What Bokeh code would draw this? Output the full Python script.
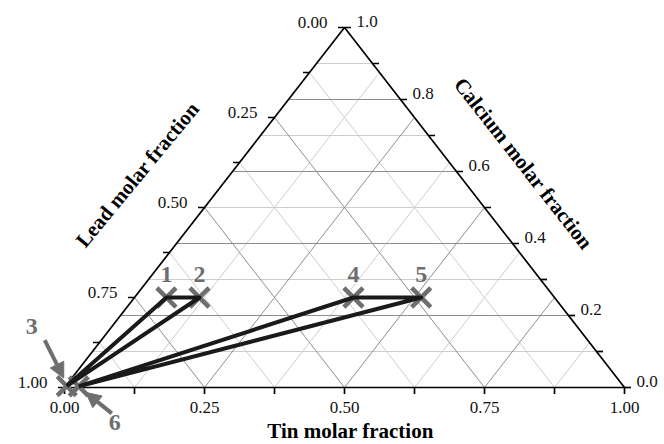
import math
from bokeh.plotting import figure
from bokeh.models import Range1d, Arrow, NormalHead
from bokeh.core.properties import value
from bokeh.embed import file_html
from bokeh.resources import INLINE

# ---- compositions (molar fractions); lead is the remainder ----
sample_ids = ["1", "2", "3", "4", "5", "6"]
tin_frac = [0.057, 0.116, 0.002, 0.391, 0.512, 0.024]
calcium_frac = [0.25, 0.25, 0.004, 0.25, 0.25, 0.003]

# tie triangles (indices into the samples)
tie_triangles = [[2, 0, 1], [5, 3, 4]]

# ---- axis ticks ----
tin_major = [0.0, 0.25, 0.5, 0.75, 1.0]
tin_labels = ["0.00", "0.25", "0.50", "0.75", "1.00"]
tin_minor = [0.125, 0.375, 0.625, 0.875]
lead_major = [0.0, 0.25, 0.5, 0.75, 1.0]
lead_labels = ["0.00", "0.25", "0.50", "0.75", "1.00"]
lead_minor = [0.125, 0.375, 0.625, 0.875]
ca_major = [1.0, 0.8, 0.6, 0.4, 0.2, 0.0]
ca_labels = ["1.0", "0.8", "0.6", "0.4", "0.2", "0.0"]
ca_minor = [0.9, 0.7, 0.5, 0.3, 0.1]

# pixel scale of the triangle (base 560 px, height 360 px)
SX, SY = 560.0, 360.0
SERIF = value("Liberation Serif")


def to_xy(sn, ca):
    """ternary (tin, calcium) -> cartesian plot coordinates"""
    return sn + ca / 2.0, ca


p = figure(width=664, height=444,
           x_range=Range1d(-64 / SX, 1 + 40 / SX),
           y_range=Range1d(-57 / SY, 1 + 27 / SY),
           output_backend="svg", toolbar_location=None,
           x_axis_location=None, y_axis_location=None,
           min_border=0, outline_line_color=None)
p.background_fill_color = "white"
p.border_fill_color = "white"
p.xgrid.visible = False
p.ygrid.visible = False

GRID_MAJOR = "#8e8e8e"
GRID_MINOR = "#cdcdcd"


def horizontal(levels, color):
    xs0 = [c / 2 for c in levels]
    xs1 = [1 - c / 2 for c in levels]
    p.segment(x0=xs0, y0=levels, x1=xs1, y1=levels, line_color=color, line_width=1)


def const_tin(levels, color):
    a = [to_xy(s, 0.0) for s in levels]
    b = [to_xy(s, 1 - s) for s in levels]
    p.segment(x0=[q[0] for q in a], y0=[q[1] for q in a],
              x1=[q[0] for q in b], y1=[q[1] for q in b],
              line_color=color, line_width=1)


def const_lead(levels, color):
    a = [to_xy(1 - q, 0.0) for q in levels]
    b = [to_xy(0.0, 1 - q) for q in levels]
    p.segment(x0=[q[0] for q in a], y0=[q[1] for q in a],
              x1=[q[0] for q in b], y1=[q[1] for q in b],
              line_color=color, line_width=1)


inner_ca_major = [c for c in ca_major if 0 < c < 1]
inner_tin_major = [c for c in tin_major if 0 < c < 1]
inner_lead_major = [c for c in lead_major if 0 < c < 1]

horizontal(ca_minor, GRID_MINOR)
const_tin(tin_minor, GRID_MINOR)
const_lead(lead_minor, GRID_MINOR)
horizontal(inner_ca_major, GRID_MAJOR)
const_tin(inner_tin_major, GRID_MAJOR)
const_lead(inner_lead_major, GRID_MAJOR)

# triangle frame
tri = [to_xy(0, 0), to_xy(1, 0), to_xy(0, 1), to_xy(0, 0)]
p.line([t[0] for t in tri], [t[1] for t in tri], line_color="black", line_width=1.7)

TICK = 6.5
# bottom (tin) ticks pointing down
bt = tin_major + tin_minor
p.segment(x0=bt, y0=[0] * len(bt), x1=bt, y1=[-TICK / SY] * len(bt),
          line_color="black", line_width=1.7)
# left (lead) ticks pointing left
lt = lead_major + lead_minor
lx = [to_xy(0, 1 - q)[0] for q in lt]
ly = [1 - q for q in lt]
p.segment(x0=lx, y0=ly, x1=[x - TICK / SX for x in lx], y1=ly,
          line_color="black", line_width=1.7)
# right (calcium) ticks pointing right
rt = ca_major + ca_minor
rx = [to_xy(1 - c, c)[0] for c in rt]
p.segment(x0=rx, y0=rt, x1=[x + TICK / SX for x in rx], y1=rt,
          line_color="black", line_width=1.7)

# tick labels
p.text(x=tin_major, y=[0] * len(tin_major), text=tin_labels,
       text_font=SERIF, text_font_size="17px", text_color="#111111",
       text_align="center", text_baseline="top", y_offset=14)
p.text(x=[to_xy(0, 1 - q)[0] for q in lead_major], y=[1 - q for q in lead_major],
       text=lead_labels, text_font=SERIF, text_font_size="17px", text_color="#111111",
       text_align="right", text_baseline="middle", x_offset=-17, y_offset=-5)
p.text(x=[to_xy(1 - c, c)[0] for c in ca_major], y=ca_major, text=ca_labels,
       text_font=SERIF, text_font_size="17px", text_color="#111111",
       text_align="left", text_baseline="middle", x_offset=12, y_offset=-6)

# axis titles
TITLE_FONT = "21px"
p.text(x=[0.5], y=[0.0], text=["Tin molar fraction"], text_font=SERIF,
       text_font_size=TITLE_FONT, text_font_style="bold", text_color="black",
       text_align="center", text_baseline="middle", x_offset=6, y_offset=43)
lm = to_xy(0, 0.5)
p.text(x=[lm[0]], y=[lm[1]], text=["Lead molar fraction"], text_font=SERIF,
       text_font_size=TITLE_FONT, text_font_style="bold", text_color="black",
       text_align="center", text_baseline="middle", angle=math.radians(50.5),
       x_offset=-67, y_offset=-33)
rm = to_xy(0.5, 0.5)
p.text(x=[rm[0]], y=[rm[1]], text=["Calcium molar fraction"], text_font=SERIF,
       text_font_size=TITLE_FONT, text_font_style="bold", text_color="black",
       text_align="center", text_baseline="middle", angle=math.radians(-52),
       x_offset=39, y_offset=-44)

# sample points
pts = [to_xy(s, c) for s, c in zip(tin_frac, calcium_frac)]
px = [q[0] for q in pts]
py = [q[1] for q in pts]
MARK = "#6e6e6e"
p.scatter(px, py, marker="x", size=27, line_color=MARK, line_width=4.5)

# tie triangles
for t in tie_triangles:
    loop = t + [t[0]]
    p.line([px[i] for i in loop], [py[i] for i in loop],
           line_color="#1a1a1a", line_width=4, line_join="round")

# sample numbers above the upper points
upper = [i for i in range(len(sample_ids)) if calcium_frac[i] > 0.1]
p.text(x=[px[i] for i in upper], y=[py[i] for i in upper],
       text=[sample_ids[i] for i in upper], text_font=SERIF,
       text_font_size="24px", text_font_style="bold", text_color=MARK,
       text_align="center", text_baseline="middle", y_offset=-23)

# numbers 3 and 6 with arrows pointing to the lead corner
i3, i6 = sample_ids.index("3"), sample_ids.index("6")
p.text(x=[px[i3]], y=[py[i3]], text=["3"], text_font=SERIF,
       text_font_size="24px", text_font_style="bold", text_color=MARK,
       text_align="center", text_baseline="middle", x_offset=-35, y_offset=-60)
p.text(x=[px[i6]], y=[py[i6]], text=["6"], text_font=SERIF,
       text_font_size="24px", text_font_style="bold", text_color=MARK,
       text_align="center", text_baseline="middle", x_offset=36, y_offset=36)

p.add_layout(Arrow(x_start=px[i3] - 22 / SX, y_start=py[i3] + 46 / SY,
                   x_end=px[i3] - 3 / SX, y_end=py[i3] + 8 / SY,
                   line_color=MARK, line_width=4,
                   end=NormalHead(size=15, fill_color=MARK, line_color=MARK)))
p.add_layout(Arrow(x_start=px[i6] + 33 / SX, y_start=py[i6] - 27 / SY,
                   x_end=px[i6] + 7 / SX, y_end=py[i6] - 6 / SY,
                   line_color=MARK, line_width=4,
                   end=NormalHead(size=15, fill_color=MARK, line_color=MARK)))

open("out.html", "w").write(file_html(p, INLINE))
